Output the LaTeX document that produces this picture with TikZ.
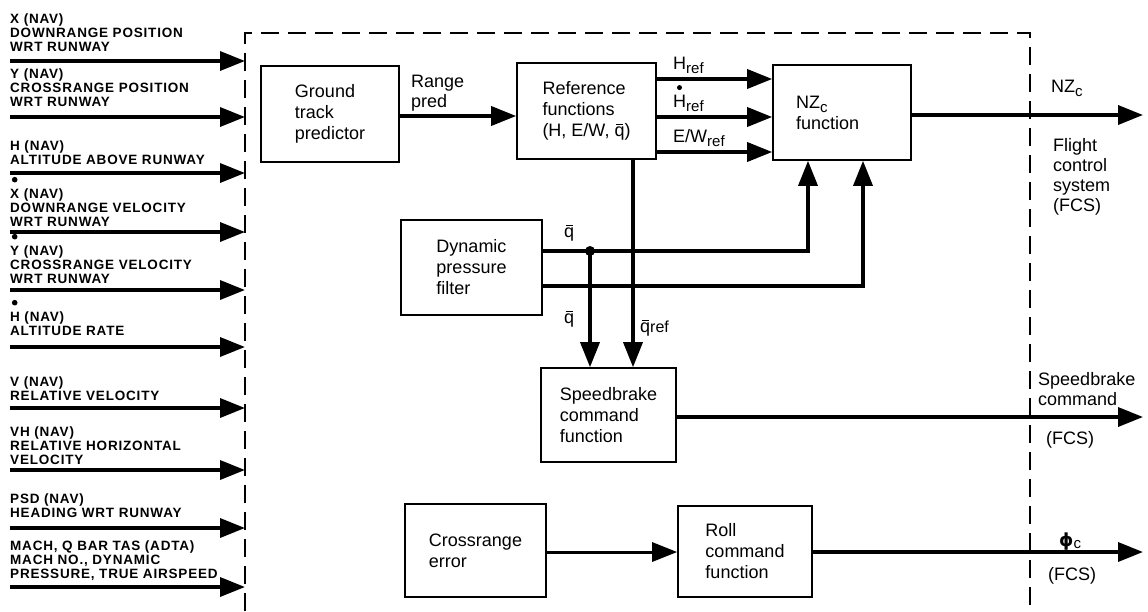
\documentclass[tikz,border=0pt]{standalone}
\usepackage{fontspec}
\setmainfont{Liberation Sans}
\newfontfamily\greekfont{DejaVu Sans}
\usetikzlibrary{arrows.meta}

\newcommand\qbar{\ooalign{q\cr\hidewidth\rule[11.5pt]{7pt}{1.3pt}\hidewidth\cr}}
\newcommand\lowsub[1]{\raisebox{-4pt}{\fontsize{15}{15}\selectfont#1}}

\begin{document}
\begin{tikzpicture}[x=1pt, y=-1pt,
	block/.style={draw, line width=1.6pt, align=left, font=\fontsize{18}{21}\selectfont},
	boxtxt/.style={inner sep=0pt, align=left, font=\fontsize{18}{20}\selectfont},
	capslab/.style={inner sep=0pt, align=left, anchor=south west, font=\fontsize{13.5}{14}\selectfont\bfseries\addfontfeatures{LetterSpace=6}},
	sig/.style={line width=3.5pt, -{Triangle[length=25pt, width=19pt]}},
	fence/.style={line width=1.8pt, dash pattern=on 18pt off 9pt}]
	\useasboundingbox (0,0) rectangle (1148,611);

	\draw[fence] (245,611) -- (245,33) -- (1030,33) -- (1030,611);

	\foreach \y/\g/\txt [count=\i] in {
		61/9/{X (NAV)\\DOWNRANGE POSITION\\WRT RUNWAY},
		117/10/{Y (NAV)\\CROSSRANGE POSITION\\WRT RUNWAY},
		173/8/{H (NAV)\\ALTITUDE ABOVE RUNWAY},
		232/5/{X (NAV)\\DOWNRANGE VELOCITY\\WRT RUNWAY},
		290/6/{Y (NAV)\\CROSSRANGE VELOCITY\\WRT RUNWAY},
		347/11/{H (NAV)\\ALTITUDE RATE},
		408/7/{V (NAV)\\RELATIVE VELOCITY},
		470/5/{VH (NAV)\\RELATIVE HORIZONTAL\\VELOCITY},
		528/10/{PSD (NAV)\\HEADING WRT RUNWAY},
		587/6/{MACH, Q BAR TAS (ADTA)\\MACH NO., DYNAMIC\\PRESSURE, TRUE AIRSPEED}} {
		\coordinate (in\i) at (10,\y);
		\coordinate (tip\i) at (245,\y);
		\draw[sig] (in\i) -- (tip\i);
		\node[capslab] (lab\i) at (10,\y-\g) {\txt};
	}
	% rate dots over X, Y, H
	\foreach \i in {4,5,6}
		\fill ([xshift=4.7pt, yshift=9pt]lab\i.north west) circle (2.8pt);

	\node[block, minimum width=138pt, minimum height=96pt] (ground) at (330,114) {Ground\\track\\predictor};
	\node[block, minimum width=139pt, minimum height=96pt] (reffun) at (586.5,111) {Reference\\functions\\(H, E/W, \qbar)};
	\node[block, minimum width=138pt, minimum height=95pt, text width=92pt] (nzfun) at (842,112.5) {NZ\lowsub{c}\\function};
	\node[block, minimum width=141pt, minimum height=95pt] (dynfilt) at (471.5,267.5) {Dynamic\\pressure\\filter};
	\node[block, minimum width=135pt, minimum height=94pt] (sbfun) at (608.5,415) {Speedbrake\\command\\function};
	\node[block, minimum width=141pt, minimum height=93pt] (crerr) at (475.5,550.5) {Crossrange\\error};
	\node[block, minimum width=134pt, minimum height=91pt] (rollfun) at (745,551.5) {Roll\\command\\function};

	\coordinate (qjoin) at (590,251);
	\coordinate (nzout) at (1143,115);
	\coordinate (sbout) at (1143,417);
	\coordinate (rollout) at (1143,552);

	\draw[sig] (ground.east |- 0,116) -- (reffun.west |- 0,116);
	\foreach \y in {79,117,152}
		\draw[sig] (reffun.east |- 0,\y) -- (nzfun.west |- 0,\y);
	\draw[sig] (nzfun.east |- nzout) -- (nzout);
	\draw[sig] (reffun.south -| 633,0) -- (sbfun.north -| 633,0);
	\draw[sig] (dynfilt.east |- qjoin) -| ([xshift=-34pt]nzfun.south);
	\draw[sig] (dynfilt.east |- 0,286) -| ([xshift=21pt]nzfun.south);
	\draw[sig] (qjoin) -- (qjoin |- sbfun.north);
	\fill (qjoin) circle (5pt);
	\draw[sig] (sbfun.east |- sbout) -- (sbout);
	\draw[sig, line width=3pt] (crerr.east |- 0,552) -- (rollfun.west |- 0,552);
	\draw[sig] (rollfun.east |- rollout) -- (rollout);

	\node[boxtxt, anchor=south west] (rplab) at (411,111) {Range\\pred};
	\node[boxtxt, anchor=south west] (hreflab) at (673,74) {H\lowsub{ref}};
	\node[boxtxt, anchor=south west] (hdotlab) at (673,112) {H\lowsub{ref}};
	\fill ([xshift=6.5pt, yshift=7.5pt]hdotlab.north west) circle (2.5pt);
	\node[boxtxt, anchor=south west] (ewlab) at (673,147) {E/W\lowsub{ref}};
	\node[boxtxt] (qlab1) at (569,233) {\qbar};
	\node[boxtxt] (qlab2) at (569,319) {\qbar};
	\node[boxtxt, anchor=west] (qreflab) at (640,327) {\qbar{\fontsize{16}{16}\selectfont ref}};

	\node[boxtxt, anchor=west] (nzlab) at (1051,88) {NZ\lowsub{c}};
	\node[boxtxt, anchor=north west] (fcslab1) at (1053,138) {Flight\\control\\system\\(FCS)};
	\node[boxtxt, anchor=south west] (sblab) at (1038,406) {Speedbrake\\command};
	\node[boxtxt, anchor=west] (fcslab2) at (1046,440) {(FCS)};
	\node[boxtxt, anchor=base west] (philab) at (1059,546) {{\greekfont\bfseries ϕ}\raisebox{-2pt}{\fontsize{15}{15}\selectfont c}};
	\node[boxtxt, anchor=west] (fcslab3) at (1048,576) {(FCS)};
\end{tikzpicture}
\end{document}
